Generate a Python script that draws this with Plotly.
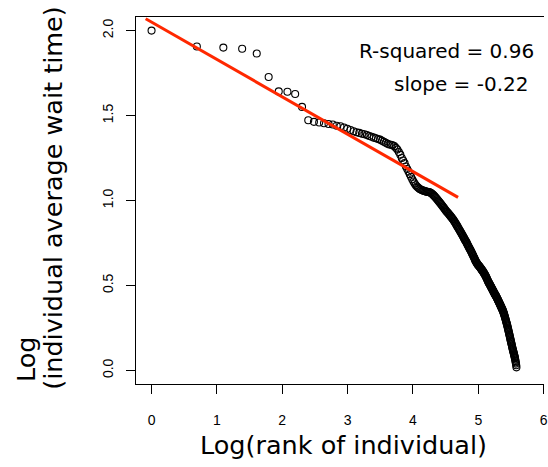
import numpy as np
import plotly.graph_objects as go

# Log of each individual's average wait time, ordered by rank (rank 1 first)
log_wait = [
    2.000, 1.906, 1.900, 1.893, 1.865, 1.727, 1.642, 1.640, 1.627, 1.551,
    1.472, 1.463, 1.459, 1.455, 1.450, 1.447, 1.440, 1.437, 1.430, 1.422,
    1.415, 1.408, 1.402, 1.398, 1.393, 1.390, 1.385, 1.380, 1.375, 1.370,
    1.366, 1.362, 1.358, 1.352, 1.346, 1.340, 1.334, 1.330, 1.328, 1.325,
    1.320, 1.310, 1.300, 1.285, 1.270, 1.250, 1.235, 1.220, 1.200, 1.185,
    1.170, 1.155, 1.140, 1.125, 1.112, 1.100, 1.090, 1.082, 1.076, 1.070,
    1.066, 1.063, 1.060, 1.058, 1.056, 1.054, 1.052, 1.051, 1.050, 1.049,
    1.047, 1.044, 1.040, 1.035, 1.030, 1.025, 1.019, 1.013, 1.007, 1.001,
    0.996, 0.990, 0.984, 0.978, 0.972, 0.966, 0.960, 0.954, 0.948, 0.942,
    0.936, 0.932, 0.928, 0.923, 0.918, 0.913, 0.908, 0.903, 0.898, 0.893,
    0.888, 0.882, 0.876, 0.870, 0.864, 0.858, 0.852, 0.846, 0.840, 0.834,
    0.828, 0.822, 0.816, 0.810, 0.804, 0.798, 0.792, 0.786, 0.780, 0.774,
    0.768, 0.763, 0.758, 0.752, 0.746, 0.740, 0.734, 0.728, 0.722, 0.716,
    0.711, 0.706, 0.700, 0.694, 0.688, 0.682, 0.676, 0.670, 0.664, 0.658,
    0.652, 0.646, 0.641, 0.636, 0.632, 0.628, 0.624, 0.620, 0.617, 0.614,
    0.611, 0.608, 0.604, 0.601, 0.598, 0.594, 0.590, 0.587, 0.584, 0.580,
    0.576, 0.572, 0.568, 0.564, 0.560, 0.556, 0.551, 0.546, 0.541, 0.536,
    0.531, 0.526, 0.521, 0.517, 0.513, 0.509, 0.505, 0.501, 0.497, 0.493,
    0.489, 0.485, 0.481, 0.477, 0.473, 0.469, 0.465, 0.461, 0.457, 0.453,
    0.449, 0.446, 0.443, 0.439, 0.436, 0.432, 0.428, 0.424, 0.420, 0.416,
    0.412, 0.408, 0.404, 0.400, 0.396, 0.392, 0.388, 0.384, 0.380, 0.376,
    0.372, 0.368, 0.364, 0.360, 0.356, 0.352, 0.347, 0.342, 0.337, 0.332,
    0.326, 0.320, 0.314, 0.308, 0.302, 0.296, 0.290, 0.284, 0.278, 0.272,
    0.265, 0.258, 0.251, 0.244, 0.237, 0.230, 0.223, 0.216, 0.209, 0.202,
    0.195, 0.188, 0.181, 0.174, 0.167, 0.160, 0.153, 0.146, 0.139, 0.132,
    0.126, 0.120, 0.114, 0.108, 0.102, 0.096, 0.090, 0.084, 0.078, 0.072,
    0.064, 0.056, 0.048, 0.040, 0.030, 0.018,
]

# Fitted power-law line on the log-log scale
fit_slope = -0.22
fit_intercept = 2.05
fit_r_squared = 0.96
fit_x_range = [-0.09, 4.69]

x_ticks = [0, 1, 2, 3, 4, 5, 6]
y_ticks = [0.0, 0.5, 1.0, 1.5, 2.0]
y_tick_text = ["0.0", "0.5", "1.0", "1.5", "2.0"]

rank = np.arange(1, len(log_wait) + 1)
log_rank = np.log(rank)

W, H = 548, 467
L, R, T, B = 136, 0, 17, 83


def px_x(p):
    return (p - L) / (W - L - R)


def px_y(p):
    return 1 - (p - T) / (H - T - B)


fig = go.Figure()
fig.add_trace(go.Scatter(
    x=log_rank, y=log_wait, mode="markers",
    marker=dict(symbol="circle-open", size=7, color="black", line=dict(width=1.1)),
    hoverinfo="skip",
))
fit_x = np.array(fit_x_range)
fig.add_trace(go.Scatter(
    x=fit_x, y=fit_intercept + fit_slope * fit_x, mode="lines",
    line=dict(color="#FF2800", width=3), hoverinfo="skip",
))

tick_font = dict(family="Liberation Sans, Arial, sans-serif", size=14, color="black")
title_font = dict(family="DejaVu Sans, sans-serif", size=25.5, color="black")
note_font = dict(family="DejaVu Sans, sans-serif", size=20, color="black")

fig.update_layout(
    width=W, height=H,
    margin=dict(l=L, r=R, t=T, b=B, pad=0),
    paper_bgcolor="white", plot_bgcolor="white",
    showlegend=False,
    xaxis=dict(
        range=[-0.238, 6.005], tickvals=x_ticks, ticktext=[str(v) for v in x_ticks],
        ticks="outside", ticklen=9, tickwidth=1, tickcolor="black",
        showline=True, linecolor="black", linewidth=1, mirror=True,
        showgrid=False, zeroline=False, tickfont=tick_font,
        ticklabelstandoff=14, ticklabeloverflow="allow",
    ),
    yaxis=dict(
        range=[-0.08, 2.08], tickvals=y_ticks, ticktext=y_tick_text,
        ticks="outside", ticklen=9, tickwidth=1, tickcolor="black",
        showline=True, linecolor="black", linewidth=1, mirror=False,
        showgrid=False, zeroline=False, tickfont=tick_font, tickangle=-90,
        ticklabelstandoff=7,
    ),
    annotations=[
        dict(text="Log(rank of individual)", xref="paper", yref="paper",
             x=px_x(346), y=px_y(445), xanchor="center", yanchor="middle",
             showarrow=False, font=title_font),
        dict(text="Log", xref="paper", yref="paper",
             x=px_x(25), y=px_y(384), xanchor="center", yanchor="bottom",
             textangle=-90, showarrow=False, font=title_font),
        dict(text="(individual average wait time)", xref="paper", yref="paper",
             x=px_x(52), y=px_y(198), xanchor="center", yanchor="middle",
             textangle=-90, showarrow=False, font=title_font),
        dict(text=f"R-squared = {fit_r_squared:.2f}", xref="paper", yref="paper",
             x=px_x(540), y=px_y(51), xanchor="right", yanchor="middle",
             showarrow=False, font=note_font),
        dict(text=f"slope = {fit_slope:.2f}", xref="paper", yref="paper",
             x=px_x(534), y=px_y(84), xanchor="right", yanchor="middle",
             showarrow=False, font=note_font),
    ],
)

fig.write_html("out.html")
